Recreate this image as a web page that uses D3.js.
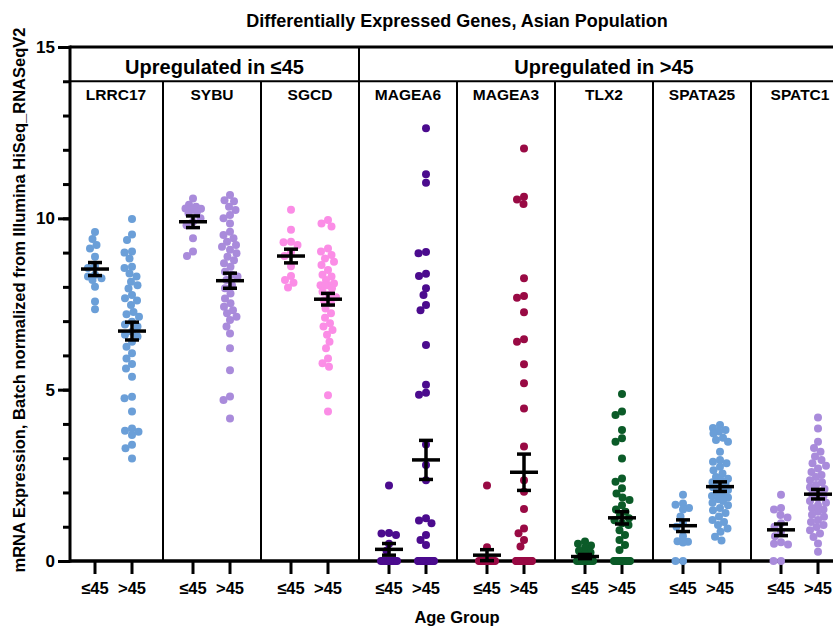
<!DOCTYPE html>
<html lang="en">
<head>
  <meta charset="UTF-8">
  <script src="https://d3js.org/d3.v7.min.js"></script>
  <title>Differentially Expressed Genes</title>
  <style>
    body { margin: 0; background: #fff; }
    text { font-family: "Liberation Sans", Arial, Helvetica, sans-serif; font-weight: bold; fill: #000; }
  </style>
</head>
<body>
  <svg id="chart" width="833" height="631"></svg>
  <script>
    // genes, groups and values
    const genes = ["LRRC17", "SYBU", "SGCD", "MAGEA6", "MAGEA3", "TLX2", "SPATA25", "SPATC1"];
    const ageGroups = ["≤45", ">45"];
    const headerGroups = ["Upregulated in ≤45", "Upregulated in >45"];
    const headerSpans = [["LRRC17", "SGCD"], ["MAGEA6", "SPATC1"]];
    const yTicks = [0, 5, 10, 15];
    const geneColors = ["#6b9fd8", "#a98bdb", "#fb8de6", "#4b0b8e", "#990a44", "#0b5b28", "#6b9fd8", "#a98bdb"];

    const z = n => Array(n).fill(0);

    const lrrc17Young = [9.6, 9.4, 9.22, 9.12, 8.88, 8.6, 8.55, 8.35, 8.3, 8.25, 8.2, 8.0, 7.57, 7.35];
    const lrrc17Old = [9.98, 9.53, 9.37, 9.03, 9.0, 8.83, 8.59, 8.55, 8.39, 8.3, 8.15, 8.05, 7.95, 7.76, 7.67, 7.6, 7.47, 7.27, 7.2, 7.13, 6.98, 6.9, 6.84, 6.69, 6.6, 6.55, 6.4, 6.25, 6.06, 5.91, 5.75, 5.62, 5.38, 4.79, 4.75, 4.36, 3.87, 3.8, 3.77, 3.68, 3.39, 3.29, 2.99];
    const sybuYoung = [10.58, 10.4, 10.34, 10.29, 10.28, 10.25, 10.19, 10.15, 10.0, 9.9, 9.8, 9.42, 9.03, 8.9];
    const sybuOld = [10.68, 10.53, 10.5, 10.34, 10.24, 10.1, 10.0, 9.85, 9.61, 9.51, 9.42, 9.32, 9.22, 9.17, 9.08, 8.98, 8.88, 8.78, 8.69, 8.59, 8.44, 8.35, 8.3, 8.2, 8.05, 7.96, 7.81, 7.66, 7.52, 7.42, 7.32, 7.23, 7.13, 7.03, 6.84, 6.64, 6.21, 5.57, 4.8, 4.7, 4.16];
    const sgcdYoung = [10.25, 9.67, 9.32, 9.3, 9.22, 9.0, 8.9, 8.6, 8.32, 8.2, 8.12, 7.98];
    const sgcdOld = [9.95, 9.85, 9.76, 9.12, 9.03, 8.93, 8.83, 8.73, 8.64, 8.49, 8.35, 8.3, 8.2, 8.1, 8.05, 8.05, 8.04, 7.96, 7.86, 7.76, 7.7, 7.6, 7.52, 7.37, 7.23, 7.1, 6.94, 6.84, 6.74, 6.6, 6.4, 6.21, 5.91, 5.77, 5.67, 4.84, 4.36];
    const magea6Young = [2.2, 0.82, 0.8, 0.76, 0.5, 0.3].concat(z(10));
    const magea6Old = [12.63, 11.29, 11.04, 9.02, 8.98, 8.38, 8.32, 7.96, 7.76, 7.47, 7.32, 6.3, 5.14, 4.91, 4.85, 3.4, 2.8, 2.36, 1.25, 1.18, 1.1, 0.76, 0.61, 0.47].concat(z(20));
    const magea3Young = [2.2, 0.4].concat(z(12));
    const magea3Old = [12.04, 10.63, 10.55, 10.42, 8.25, 7.73, 7.68, 7.26, 6.47, 6.4, 5.74, 5.19, 4.45, 3.34, 2.36, 2.02, 1.52, 0.95, 0.81, 0.61, 0.42].concat(z(20));
    const tlx2Young = [0.57, 0.5, 0.45, 0.38, 0.3, 0.25, 0.2, 0.15, 0.1].concat(z(10));
    const tlx2Old = [4.87, 4.36, 4.26, 3.82, 3.58, 3.48, 2.99, 2.41, 2.31, 2.12, 1.97, 1.85, 1.78, 1.63, 1.5, 1.44, 1.34, 1.25, 1.19, 1.1, 1.05, 0.9, 0.76, 0.61, 0.47, 0.32].concat(z(16));
    const spata25Young = [1.93, 1.68, 1.64, 1.55, 1.5, 1.3, 1.1, 1.0, 0.72, 0.58, 0.56, 0.54, 0, 0];
    const spata25Old = [3.97, 3.88, 3.82, 3.78, 3.72, 3.6, 3.53, 3.48, 3.19, 2.95, 2.9, 2.85, 2.75, 2.65, 2.55, 2.45, 2.4, 2.36, 2.3, 2.25, 2.2, 2.15, 2.1, 2.07, 2.0, 1.95, 1.9, 1.85, 1.8, 1.75, 1.7, 1.63, 1.55, 1.48, 1.4, 1.3, 1.2, 1.14, 1.05, 0.95, 0.85, 0.71, 0.6];
    const spatc1Young = [1.93, 1.55, 1.5, 1.34, 1.27, 1.1, 1.0, 0.85, 0.72, 0.55, 0.5, 0.48, 0, 0];
    const spatc1Old = [4.19, 3.87, 3.48, 3.3, 3.19, 3.05, 2.95, 2.85, 2.78, 2.7, 2.6, 2.51, 2.45, 2.36, 2.3, 2.22, 2.15, 2.1, 2.02, 1.95, 1.9, 1.83, 1.75, 1.7, 1.63, 1.55, 1.5, 1.44, 1.35, 1.29, 1.2, 1.14, 1.05, 0.99, 0.9, 0.8, 0.7, 0.51, 0.27];

    // mean and SEM, [≤45, >45] per gene
    const means = [[8.52, 6.71], [9.90, 8.18], [8.90, 7.64], [0.34, 2.95], [0.17, 2.59], [0.13, 1.26], [1.03, 2.17], [0.91, 1.95]];
    const sems = [[0.19, 0.26], [0.17, 0.22], [0.20, 0.17], [0.17, 0.57], [0.16, 0.53], [0.06, 0.18], [0.17, 0.14], [0.17, 0.14]];

    const values = [
      [lrrc17Young, lrrc17Old], [sybuYoung, sybuOld], [sgcdYoung, sgcdOld],
      [magea6Young, magea6Old], [magea3Young, magea3Old], [tlx2Young, tlx2Old],
      [spata25Young, spata25Old], [spatc1Young, spatc1Old]
    ];

    const svg = d3.select("#chart");
    const width = +svg.attr("width");
    const axisX = 70;
    const bandStart = 65, bandW = 98;

    const y = d3.scaleLinear().domain([0, 15]).range([561, 47]);
    const xGene = d3.scaleBand().domain(genes).range([bandStart, bandStart + bandW * genes.length]);
    const xAge = d3.scalePoint().domain(ageGroups).range([30, 67]);
    const xPos = (g, a) => xGene(g) + xAge(a);

    const r = 4, maxW = 8;

    // simple beeswarm with limited width; big ties are spread evenly
    function swarm(vals) {
      const placed = [];
      const counts = d3.rollup(vals, v => v.length, d => d);
      counts.forEach((k, v) => {
        if (k >= 4) {
          d3.range(k).forEach(i => placed.push({ v: v, dx: -maxW + (2 * maxW) * i / (k - 1), py: y(v) }));
        }
      });
      const rest = vals.filter(v => counts.get(v) < 4).sort((a, b) => b - a);
      const cands = d3.range(-maxW, maxW + 0.01, 0.5).sort((a, b) => Math.abs(a) - Math.abs(b) || a - b);
      rest.forEach(v => {
        const py = y(v);
        let best = null, bestD = -1;
        for (const c of cands) {
          let dmin = Infinity;
          for (const p of placed) {
            const d = Math.hypot(p.dx - c, p.py - py);
            if (d < dmin) dmin = d;
          }
          if (dmin >= 2 * r * 0.9) { best = c; bestD = dmin; break; }
          if (dmin > bestD + 0.5) { bestD = dmin; best = c; }
        }
        placed.push({ v: v, dx: best, py: py });
      });
      return placed;
    }

    const points = [];
    const stats = [];
    genes.forEach((g, gi) => {
      ageGroups.forEach((a, ai) => {
        swarm(values[gi][ai]).forEach(p => points.push({ gene: g, age: a, color: geneColors[gi], x: xPos(g, a) + p.dx, v: p.v }));
        stats.push({ gene: g, age: a, mean: means[gi][ai], sem: sems[gi][ai] });
      });
    });

    // frame and separators
    const frame = svg.append("g");
    frame.append("line")
      .attr("x1", axisX).attr("x2", width).attr("y1", y(15)).attr("y2", y(15))
      .attr("stroke", "#000").attr("stroke-width", 3);
    frame.append("line")
      .attr("x1", axisX).attr("x2", width).attr("y1", y(14)).attr("y2", y(14))
      .attr("stroke", "#000").attr("stroke-width", 2);
    frame.selectAll("line.sep")
      .data(genes.slice(1))
      .join("line")
      .attr("class", "sep")
      .attr("x1", d => xGene(d)).attr("x2", d => xGene(d))
      .attr("y1", d => d === headerSpans[1][0] ? y(15) : y(14))
      .attr("y2", y(0))
      .attr("stroke", "#000").attr("stroke-width", 2);

    // x axis baseline and ticks (under the dots)
    svg.append("line")
      .attr("x1", axisX).attr("x2", width).attr("y1", y(0)).attr("y2", y(0))
      .attr("stroke", "#000").attr("stroke-width", 3.5);
    const xt = svg.append("g");
    genes.forEach(g => {
      ageGroups.forEach(a => {
        const cx = xPos(g, a);
        xt.append("line").attr("x1", cx).attr("x2", cx).attr("y1", y(0)).attr("y2", y(0) + 13)
          .attr("stroke", "#000").attr("stroke-width", 3);
        xt.append("text").attr("x", cx).attr("y", 594)
          .attr("text-anchor", "middle").attr("font-size", 16.5)
          .text(a);
      });
    });

    // header labels
    headerGroups.forEach((h, i) => {
      const x0 = i === 0 ? axisX : xGene(headerSpans[i][0]);
      const x1 = xGene(headerSpans[i][1]) + bandW;
      svg.append("text")
        .attr("x", (x0 + x1) / 2).attr("y", 74)
        .attr("text-anchor", "middle").attr("font-size", 20)
        .text(h);
    });
    svg.selectAll("text.gene")
      .data(genes)
      .join("text")
      .attr("class", "gene")
      .attr("x", d => xGene(d) + bandW / 2 + (d === genes[0] ? 2 : 0))
      .attr("y", 100)
      .attr("text-anchor", "middle").attr("font-size", 15.5)
      .text(d => d);

    // dots
    svg.append("g").selectAll("circle")
      .data(points)
      .join("circle")
      .attr("cx", d => d.x)
      .attr("cy", d => y(d.v))
      .attr("r", r)
      .attr("fill", d => d.color);

    // mean +/- SEM
    const bars = svg.append("g").attr("stroke", "#000").attr("stroke-width", 3.5);
    stats.forEach(s => {
      const cx = xPos(s.gene, s.age);
      bars.append("line").attr("x1", cx - 14).attr("x2", cx + 14).attr("y1", y(s.mean)).attr("y2", y(s.mean));
      bars.append("line").attr("x1", cx).attr("x2", cx).attr("y1", y(s.mean + s.sem)).attr("y2", y(Math.max(0, s.mean - s.sem)));
      bars.append("line").attr("x1", cx - 7).attr("x2", cx + 7).attr("y1", y(s.mean + s.sem)).attr("y2", y(s.mean + s.sem));
      bars.append("line").attr("x1", cx - 7).attr("x2", cx + 7).attr("y1", y(Math.max(0, s.mean - s.sem))).attr("y2", y(Math.max(0, s.mean - s.sem)));
    });

    // y axis with minor ticks
    const yAxis = svg.append("g").attr("transform", `translate(${axisX},0)`);
    yAxis.append("g")
      .call(d3.axisLeft(y).tickValues(d3.range(0, 16)).tickSize(7).tickFormat(""))
      .call(g => g.selectAll("line").attr("stroke-width", 3))
      .call(g => g.select(".domain").remove());
    yAxis.append("g")
      .call(d3.axisLeft(y).tickValues(yTicks).tickSize(12).tickPadding(3))
      .call(g => g.selectAll("line").attr("stroke-width", 3))
      .call(g => g.select(".domain").remove())
      .call(g => g.selectAll("text").attr("font-size", 17).attr("font-family", null));
    yAxis.append("line")
      .attr("x1", 0).attr("x2", 0).attr("y1", y(15) - 1.5).attr("y2", y(0) + 1.5)
      .attr("stroke", "#000").attr("stroke-width", 3);

    // titles
    svg.append("text")
      .attr("x", 457).attr("y", 27)
      .attr("text-anchor", "middle").attr("font-size", 18)
      .text("Differentially Expressed Genes, Asian Population");
    svg.append("text")
      .attr("x", 457).attr("y", 623)
      .attr("text-anchor", "middle").attr("font-size", 16.5)
      .text("Age Group");
    svg.append("text")
      .attr("transform", "translate(25,300) rotate(-90)")
      .attr("text-anchor", "middle").attr("font-size", 16.5)
      .text("mRNA Expression, Batch normalized from Illumina HiSeq_RNASeqV2");
  </script>
</body>
</html>
